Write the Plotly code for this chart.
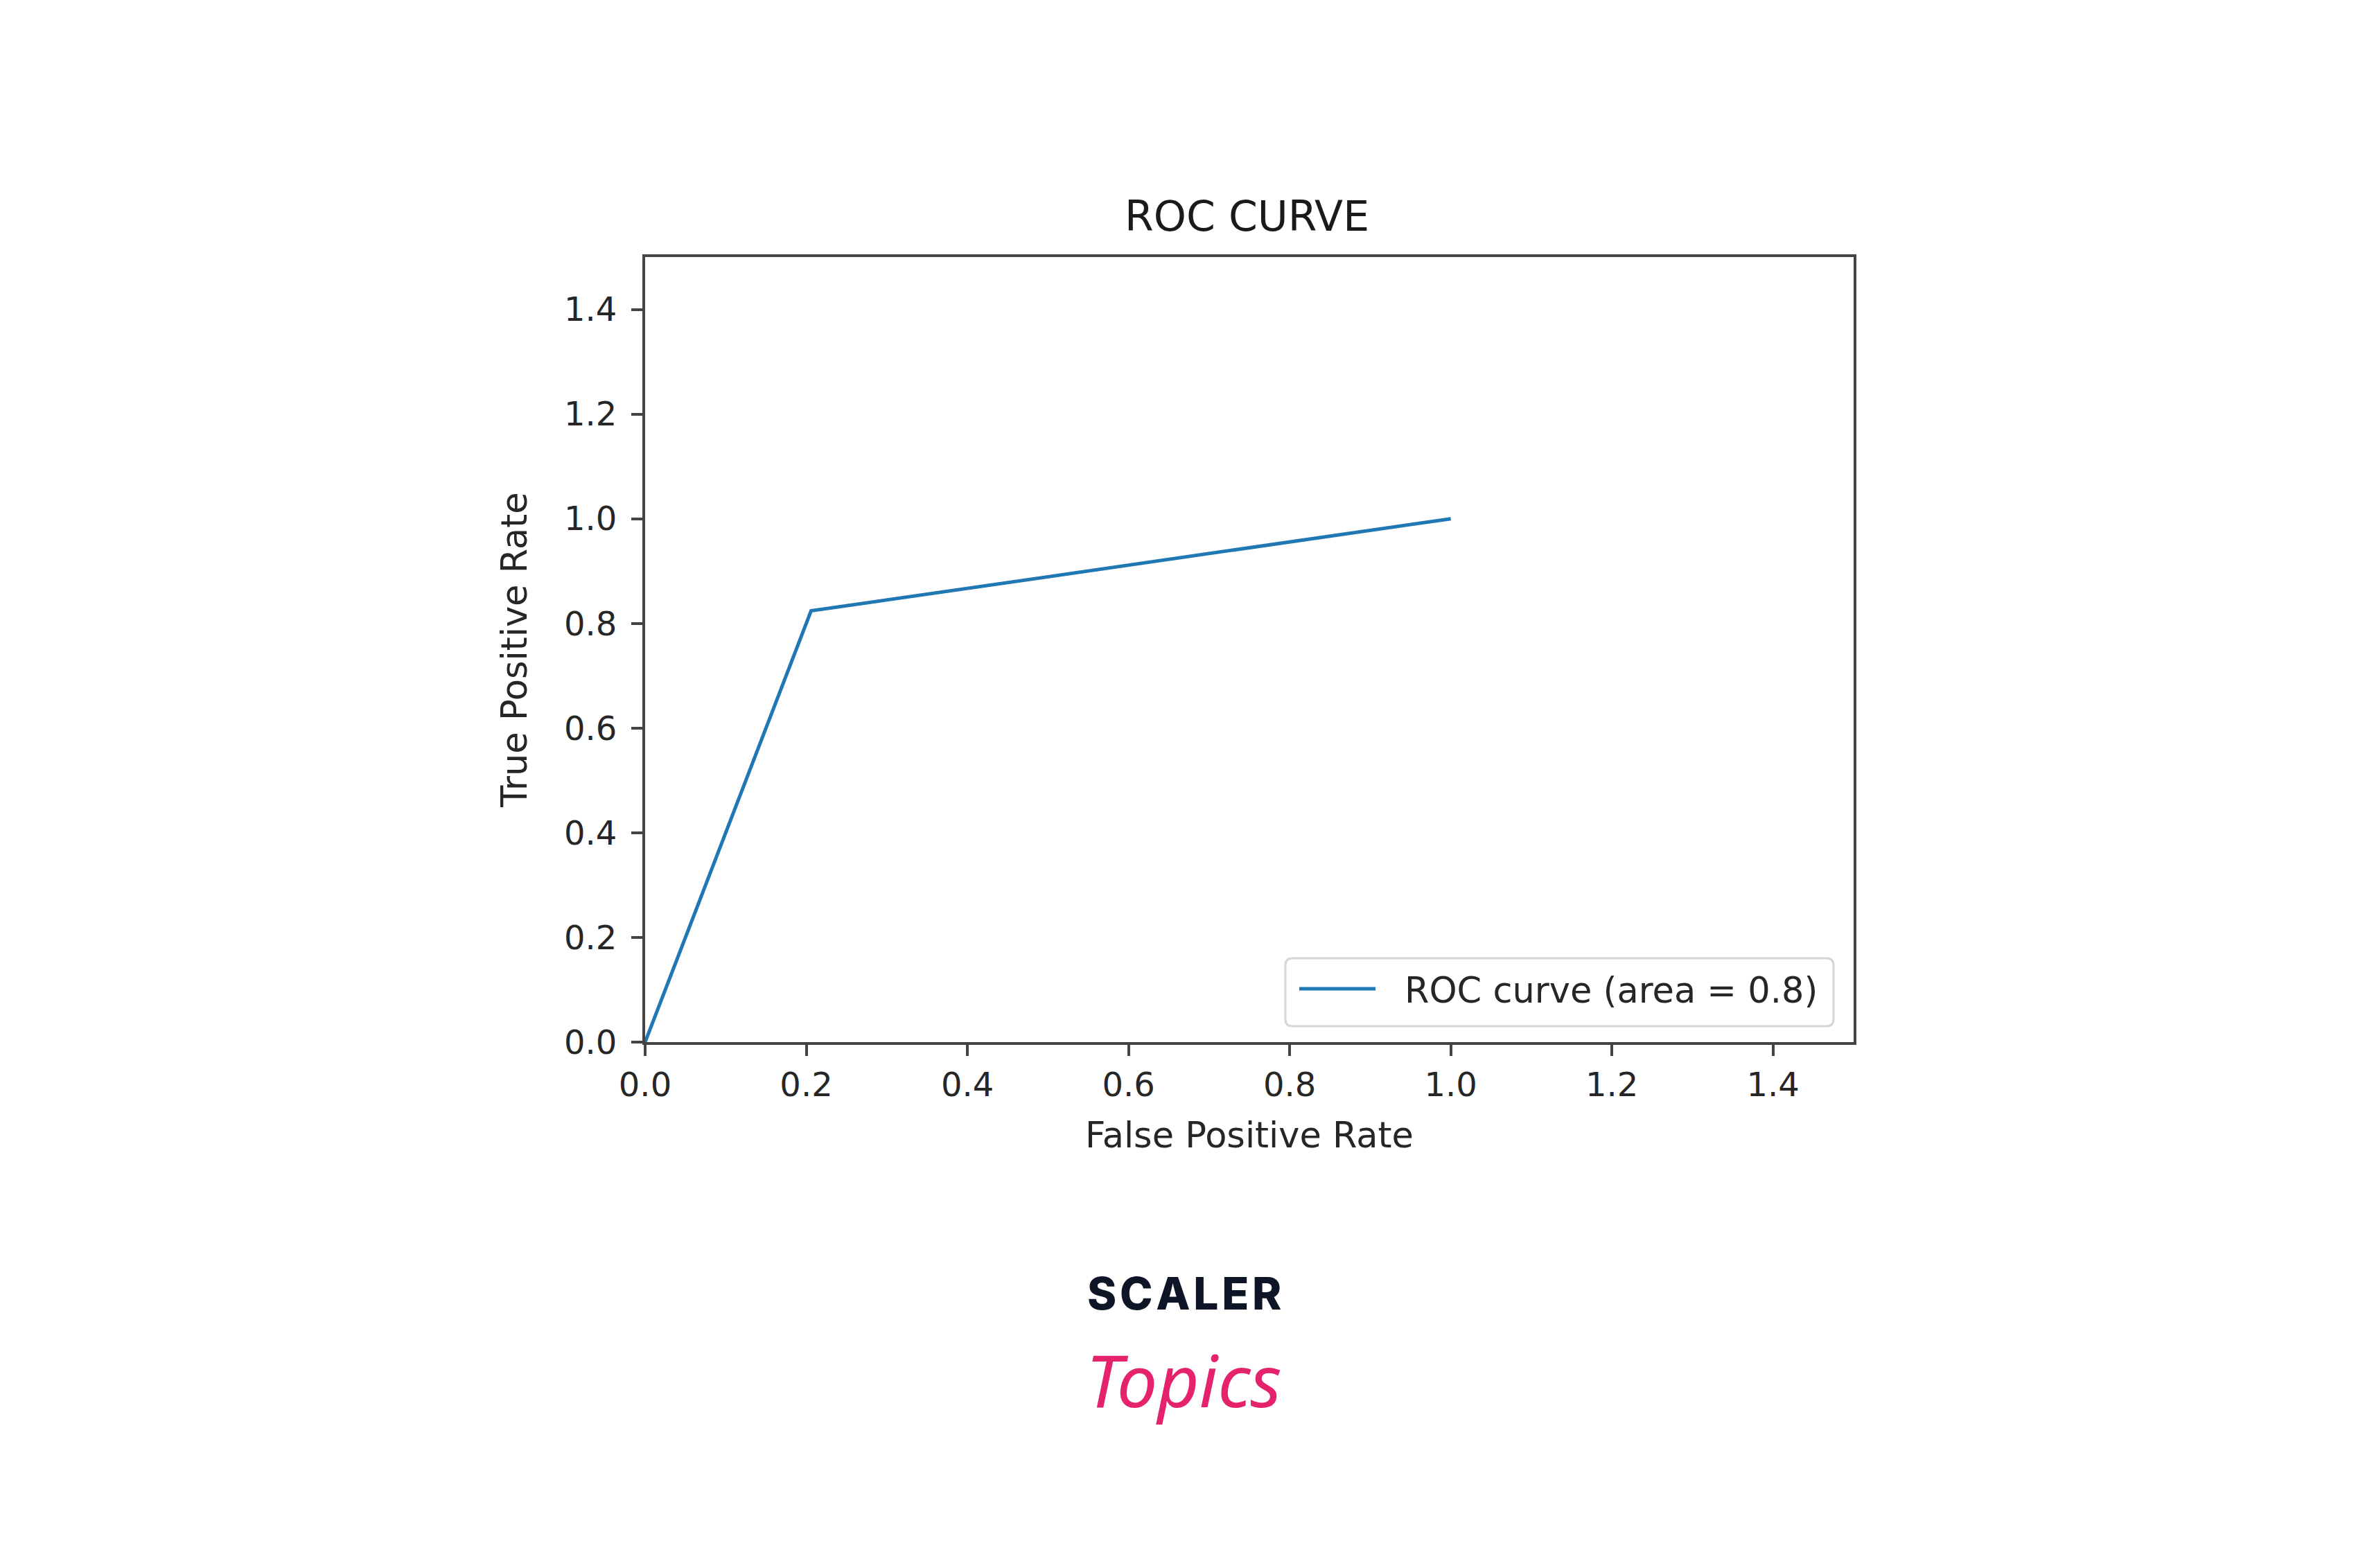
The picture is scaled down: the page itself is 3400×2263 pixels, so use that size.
import plotly.graph_objects as go

# ROC curve values
fpr = [0.0, 0.206, 1.0]
tpr = [0.0, 0.824, 1.0]
roc_auc = 0.8
tick_vals = [0.0, 0.2, 0.4, 0.6, 0.8, 1.0, 1.2, 1.4]
tick_text = ["0.0", "0.2", "0.4", "0.6", "0.8", "1.0", "1.2", "1.4"]

W, H = 3400, 2263
# plot box in page pixels
L, R, T, B = 923, 2667, 363, 1496


def px_x(px):
    return (px - L) / (R - L)


def px_y(py):
    return (B - py) / (B - T)


def round_box(x0, y0, x1, y1, r):
    # rounded rectangle path in paper coords, corners given in pixels
    ax0, ax1 = px_x(x0), px_x(x1)
    ay0, ay1 = px_y(y1), px_y(y0)
    rx = r / (R - L)
    ry = r / (B - T)
    return (f"M{ax0 + rx},{ay0} L{ax1 - rx},{ay0} Q{ax1},{ay0} {ax1},{ay0 + ry} "
            f"L{ax1},{ay1 - ry} Q{ax1},{ay1} {ax1 - rx},{ay1} "
            f"L{ax0 + rx},{ay1} Q{ax0},{ay1} {ax0},{ay1 - ry} "
            f"L{ax0},{ay0 + ry} Q{ax0},{ay0} {ax0 + rx},{ay0} Z")


FONT = "DejaVu Sans"
TXT = "#262626"
SPINE = "#444444"
BLUE = "#1f77b4"

fig = go.Figure()
fig.add_trace(go.Scatter(
    x=fpr, y=tpr, mode="lines",
    line=dict(color=BLUE, width=5),
    name=f"ROC curve (area = {roc_auc})",
    showlegend=False,
))

axis = dict(
    range=[0, 1.5],
    tickvals=tick_vals,
    ticktext=tick_text,
    ticks="outside",
    ticklen=16,
    tickwidth=4,
    tickcolor=SPINE,
    showline=True,
    linecolor=SPINE,
    linewidth=4,
    mirror=True,
    showgrid=False,
    zeroline=False,
    tickfont=dict(family=FONT, size=48, color=TXT),
)
fig.update_xaxes(**axis)
fig.update_yaxes(
    **axis, ticklabelstandoff=11,
    title=dict(text="True Positive Rate", standoff=38,
               font=dict(family=FONT, size=51, color=TXT)),
)

# legend drawn by hand so the sample line can be as long as in the original
fig.add_shape(type="path", xref="paper", yref="paper",
              path=round_box(1847, 1375, 2638, 1473, 10),
              line=dict(color="#d6d6d6", width=3), fillcolor="white")
fig.add_shape(type="line", xref="paper", yref="paper",
              x0=px_x(1867), x1=px_x(1977), y0=px_y(1419), y1=px_y(1419),
              line=dict(color=BLUE, width=5))

notes = [
    dict(text=f"ROC curve (area = {roc_auc})", x=px_x(2017), y=px_y(1421),
         xanchor="left", yanchor="middle", font=dict(family=FONT, size=51, color=TXT)),
    dict(text="ROC CURVE", x=px_x(1791), y=px_y(304),
         xanchor="center", yanchor="middle", font=dict(family=FONT, size=60, color="#1a1a1a")),
    dict(text="False Positive Rate", x=px_x(1795), y=px_y(1630),
         xanchor="center", yanchor="middle", font=dict(family=FONT, size=51, color=TXT)),
    # logo
    dict(text="S\u200aC\u200aA\u200aL\u200aE\u200aR", x=px_x(1701), y=px_y(1858),
         xanchor="center", yanchor="middle",
         font=dict(family="Inter", size=64, color="#0d1526", weight=800)),
    dict(text="Topics", x=px_x(1700), y=px_y(1982),
         xanchor="center", yanchor="middle",
         font=dict(family="Noto Sans", size=104, color="#e5236d", style="italic")),
]
for n in notes:
    fig.add_annotation(xref="paper", yref="paper", showarrow=False, **n)

fig.update_layout(
    width=W, height=H, autosize=False,
    margin=dict(l=L, r=W - R, t=T, b=H - B),
    paper_bgcolor="white",
    plot_bgcolor="white",
    showlegend=False,
)

fig.write_html("out.html")
